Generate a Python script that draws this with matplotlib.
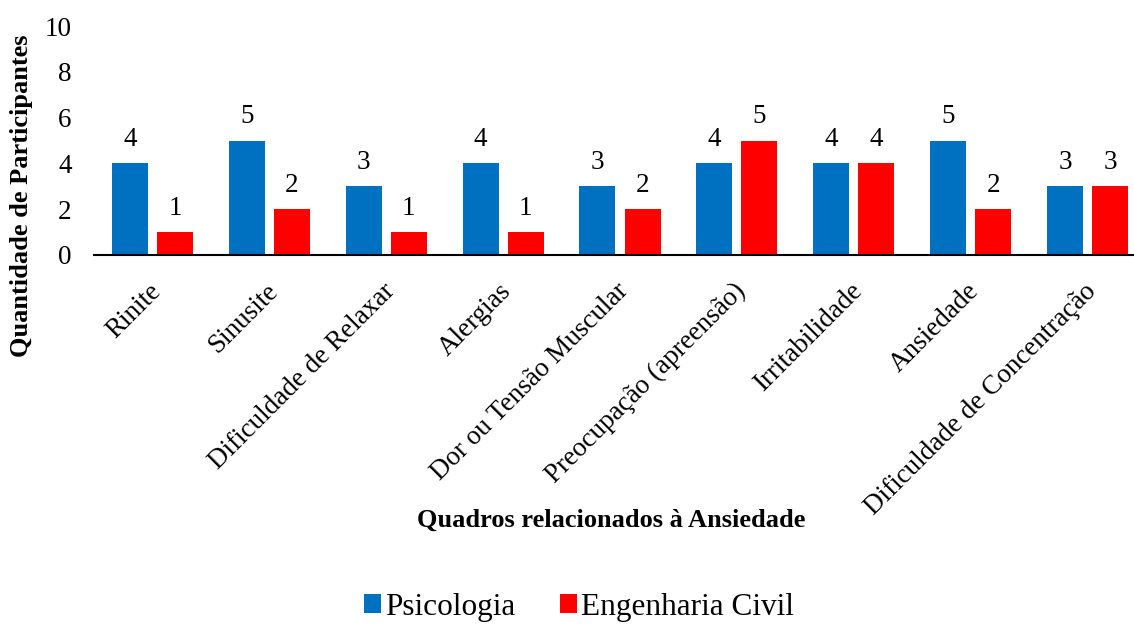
import matplotlib.pyplot as plt
import matplotlib.transforms as mtransforms
import numpy as np

plt.rcParams['font.family'] = ['Liberation Serif', 'DejaVu Serif']

# dados
categorias = ["Rinite", "Sinusite", "Dificuldade de Relaxar", "Alergias",
              "Dor ou Tensão Muscular", "Preocupação (apreensão)",
              "Irritabilidade", "Ansiedade", "Dificuldade de Concentração"]
psicologia = [4, 5, 3, 4, 3, 4, 4, 5, 3]
engenharia = [1, 2, 1, 1, 2, 5, 4, 2, 3]

AZUL = "#0070C0"
VERMELHO = "#FF0000"

fig = plt.figure(figsize=(11.34, 6.26), dpi=100)
ax = fig.add_axes([94 / 1134, 1 - 255 / 626, 1052 / 1134, 229 / 626])

x = np.arange(len(categorias))
w = 0.308
off = 0.1925
b1 = ax.bar(x - off, psicologia, w, color=AZUL, label="Psicologia")
b2 = ax.bar(x + off, engenharia, w, color=VERMELHO, label="Engenharia Civil")

for bars in (b1, b2):
    for b in bars:
        ax.annotate(f"{int(b.get_height())}",
                    (b.get_x() + b.get_width() / 2, b.get_height()),
                    xytext=(0, 8), textcoords="offset points",
                    ha="center", va="bottom", fontsize=19.5)

ax.set_xlim(-0.5, len(categorias) - 0.5)
ax.set_ylim(0, 10)
ax.set_yticks(range(0, 11, 2))
ax.tick_params(axis="y", length=0, labelsize=19.5, pad=16)
ax.tick_params(axis="x", length=0, labelsize=19.5, pad=17)
ax.set_xticks(x)
ax.set_xticklabels(categorias, rotation=45, ha="right", rotation_mode="anchor")
shift = mtransforms.ScaledTranslation(-4 / 100, 0, fig.dpi_scale_trans)
for lab in ax.get_xticklabels():
    lab.set_transform(lab.get_transform() + shift)
for s in ("top", "right", "left"):
    ax.spines[s].set_visible(False)
ax.spines["bottom"].set_linewidth(1.5)

fig.text(22 / 1134, 1 - 196 / 626, "Quantidade de Participantes", rotation=90,
         ha="center", va="center", fontsize=19, fontweight="bold")
fig.text(611 / 1134, 1 - 520 / 626, "Quadros relacionados à Ansiedade",
         ha="center", va="center", fontsize=19, fontweight="bold")

fig.legend(handles=[b1, b2], loc="center", bbox_to_anchor=(579 / 1134, 1 - 607 / 626),
           ncol=2, frameon=False, fontsize=22.5, handlelength=0.55, handleheight=0.55,
           handletextpad=0.15, columnspacing=1.4)

fig.savefig("out.png", dpi=100)
